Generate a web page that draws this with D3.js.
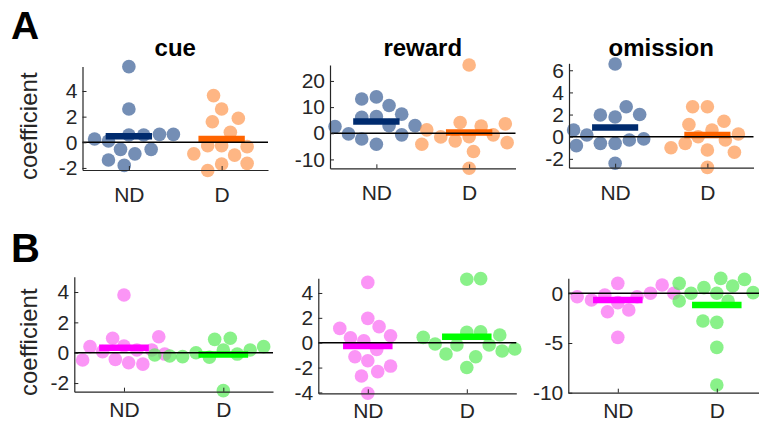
<!DOCTYPE html>
<html>
<head>
<meta charset="utf-8">
<script src="https://cdn.jsdelivr.net/npm/d3@7"></script>
<style>
  html, body { margin: 0; padding: 0; background: #fff; }
  svg { display: block; font-family: "Liberation Sans", Arial, Helvetica, sans-serif; }
</style>
</head>
<body>
<svg id="chart" width="759" height="427"></svg>
<script>
// Group labels on the x axis
const groups = ["ND", "D"];
const topTitles = ["cue", "reward", "omission"];

// Row A: regression coefficients per subject; *X arrays hold horizontal spread around the group position
const cueND    = [5.9, 2.6, 0.26, 0.1, 0.57, 0.57, 0.62, 0.62, -0.55, -0.55, -0.9, -1.38, -1.8];
const cueNDX   = [0, 0, -0.37, -0.22, 0, 0.16, 0.33, 0.48, -0.09, 0.24, 0.065, -0.22, -0.05];
const cueD     = [3.64, 2.6, 1.6, 1.87, 0.78, -0.9, -0.26, -0.26, -0.34, -1.0, -1.7, -2.2, -1.64];
const cueDX    = [-0.087, 0, -0.1, 0.18, 0.094, -0.3, -0.15, 0, 0.275, 0.14, 0, -0.15, 0.275];
const cueMeans = [0.47, 0.26];

const rewardND    = [2.55, -0.25, 13.1, 13.9, 10.6, 7.3, 6.1, 6.4, 2.9, 2.9, -2.2, -0.6, -4.2];
const rewardNDX   = [-0.446, -0.3, -0.158, 0, 0.137, 0.273, -0.158, 0, 0.137, 0.417, -0.158, 0.273, 0];
const rewardD     = [26.1, 1.3, -4.2, -1.4, -2.9, 4.1, -1.3, 2.8, -7.0, -0.6, 3.6, -3.6, -13.4];
const rewardDX    = [0, -0.457, -0.51, -0.306, -0.15, -0.097, 0, 0.13, 0.047, 0.26, 0.39, 0.41, 0];
const rewardMeans = [4.46, 0.25];

const omissionND    = [6.57, 0.6, -0.81, 0.15, 1.96, 1.78, 2.7, 2.0, -0.6, -0.6, -0.3, -0.2, -2.4];
const omissionNDX   = [0, -0.45, -0.42, -0.307, -0.16, 0, 0.12, 0.266, -0.16, 0, 0.154, 0.31, 0];
const omissionD     = [2.7, 2.7, 1.1, 1.4, 0.6, -1.0, -0.6, 0, -0.3, 0.24, -1.2, -1.4, -2.77];
const omissionDX    = [-0.16, 0, -0.2, 0.18, 0.05, -0.394, -0.24, -0.1, 0.195, 0.336, 0, 0.293, 0];
const omissionMeans = [0.84, 0.15];

// Row B
const b1ND    = [3.8, -0.48, 0.4, 0.07, 0.95, -0.44, 0.44, -0.66, 0.18, -0.75, 0.18, 1.05, -0.09];
const b1NDX   = [0, -0.416, -0.342, -0.215, -0.114, -0.087, 0, 0.047, 0.13, 0.19, 0.28, 0.35, 0.41];
const b1D     = [-0.15, -0.22, -0.26, 0, -0.3, 0.88, 0.95, 0.18, -0.09, 0.18, 0.4, -2.5];
const b1DX    = [-0.69, -0.54, -0.41, -0.275, -0.14, -0.087, 0.07, 0, 0.14, 0.27, 0.406, 0];
const b1Means = [0.33, -0.11];

const b2ND    = [4.85, 1.15, 0.4, 0.16, 1.96, 1.29, 0.56, -0.54, -1.13, -1.45, -1.88, -2.33, -2.68, -4.07];
const b2NDX   = [0, -0.283, -0.175, -0.04, 0, 0.114, 0.23, 0.09, -0.13, 0, 0.23, 0.1, -0.064, 0];
const b2D     = [5.1, 5.15, 0.43, -0.1, -0.91, -0.19, 0.83, 0.88, -1.13, -2.0, -0.19, 0.62, -0.67, -0.51];
const b2DX    = [0, 0.14, -0.44, -0.32, -0.21, -0.1, 0, 0.14, 0.09, 0, 0.226, 0.333, 0.357, 0.485];
const b2Means = [-0.27, 0.48];

const b3ND    = [-0.34, -0.67, -0.17, 1.0, -0.94, -1.85, -1.68, -0.34, -4.43, 0, 0.84, 0];
const b3NDX   = [-0.41, -0.266, -0.131, 0, 0, -0.104, 0.111, 0.195, 0, 0.33, 0.448, 0.566];
const b3D     = [1.0, -0.77, 0, 0.57, 0, 1.5, 0.74, 1.4, 0.07, -0.77, -2.78, -2.92, -5.44, -9.23];
const b3DX    = [-0.38, -0.38, -0.26, -0.13, 0, 0.04, 0.16, 0.28, 0.367, 0.114, -0.14, 0, 0, 0];
const b3Means = [-0.67, -1.17];

// Tick values
const cueTicks = [-2, 0, 2, 4];
const rewardTicks = [-10, 0, 10, 20];
const omissionTicks = [-2, 0, 2, 4, 6];
const b1Ticks = [-2, 0, 2, 4];
const b2Ticks = [-4, -2, 0, 2, 4];
const b3Ticks = [-10, -5, 0];

// Colours
const rowAColors = { dotND: "#3e6299", dotD: "#fd9a55", barND: "#002b6e", barD: "#ff6400" };
const rowBColors = { dotND: "#f96cf2", dotD: "#5ceb5c", barND: "#ff00ff", barD: "#00ff00" };

const panels = [
  { title: topTitles[0], nd: cueND, ndx: cueNDX, d: cueD, dx: cueDX, means: cueMeans, ticks: cueTicks,
    yDomain: [-2.16, 5.91], box: [82.5, 268, 66.5, 170], colors: rowAColors, xGap: 17, ylab: true },
  { title: topTitles[1], nd: rewardND, ndx: rewardNDX, d: rewardD, dx: rewardDX, means: rewardMeans, ticks: rewardTicks,
    yDomain: [-13.4, 26.1], box: [330, 515.5, 65, 168.3], colors: rowAColors, xGap: 17 },
  { title: topTitles[2], nd: omissionND, ndx: omissionNDX, d: omissionD, dx: omissionDX, means: omissionMeans, ticks: omissionTicks,
    yDomain: [-2.8, 6.63], box: [569, 753.5, 63.3, 167.7], colors: rowAColors, xGap: 17 },
  { nd: b1ND, ndx: b1NDX, d: b1D, dx: b1DX, means: b1Means, ticks: b1Ticks,
    yDomain: [-2.57, 5.01], box: [74.3, 273, 276.7, 391.7], colors: rowBColors, xGap: 10, ylab: true },
  { nd: b2ND, ndx: b2NDX, d: b2D, dx: b2DX, means: b2Means, ticks: b2Ticks,
    yDomain: [-4.07, 5.18], box: [318.3, 516.3, 278.3, 393.3], colors: rowBColors, xGap: 10 },
  { nd: b3ND, ndx: b3NDX, d: b3D, dx: b3DX, means: b3Means, ticks: b3Ticks,
    yDomain: [-10, 1.51], box: [568.3, 766.3, 278.3, 392.7], colors: rowBColors, xGap: 10 }
];

const svg = d3.select("#chart");
const axisColor = "#262626";
const tickFont = 21;
const dotR = 6.8;
const barHalf = 0.25;   // half-width of mean bar in category units

panels.forEach(p => {
  const [left, right, top, bottom] = p.box;
  const x = d3.scaleLinear().domain([0.5, 2.5]).range([left, right]);
  const y = d3.scaleLinear().domain(p.yDomain).range([bottom, top]);
  const g = svg.append("g");

  // individual subject coefficients
  const pts = [];
  p.nd.forEach((v, i) => pts.push({ g: 1, x: 1 + p.ndx[i], y: v, c: p.colors.dotND }));
  p.d.forEach((v, i) => pts.push({ g: 2, x: 2 + p.dx[i], y: v, c: p.colors.dotD }));
  g.append("g").selectAll("circle").data(pts).join("circle")
    .attr("cx", d => x(d.x)).attr("cy", d => y(d.y)).attr("r", dotR)
    .attr("fill", d => d.c).attr("fill-opacity", 0.72);

  // group means
  g.append("g").selectAll("line").data(p.means).join("line")
    .attr("x1", (m, i) => x(i + 1 - barHalf)).attr("x2", (m, i) => x(i + 1 + barHalf))
    .attr("y1", m => y(m)).attr("y2", m => y(m))
    .attr("stroke", (m, i) => i === 0 ? p.colors.barND : p.colors.barD)
    .attr("stroke-width", 6.5);

  // zero reference line
  g.append("line")
    .attr("x1", x(0.5)).attr("x2", Math.min(x(2.5), 759))
    .attr("y1", y(0)).attr("y2", y(0))
    .attr("stroke", "#000").attr("stroke-width", 1.6);

  // axes
  const yAxis = d3.axisLeft(y).tickValues(p.ticks).tickSize(-4).tickSizeOuter(0).tickPadding(5)
    .tickFormat(d3.format("d"));
  const ya = g.append("g").attr("transform", `translate(${left},0)`).call(yAxis);
  const xAxis = d3.axisBottom(x).tickValues([1, 2]).tickSize(-4).tickSizeOuter(0).tickPadding(p.xGap)
    .tickFormat(i => groups[i - 1]);
  const xa = g.append("g").attr("transform", `translate(0,${bottom})`).call(xAxis);
  [ya, xa].forEach(a => {
    a.select(".domain").attr("stroke", axisColor).attr("stroke-width", 1.2);
    a.selectAll(".tick line").attr("stroke", axisColor).attr("stroke-width", 1);
    a.selectAll(".tick text").attr("fill", axisColor)
      .style("font-size", tickFont + "px")
      .style("font-family", "'Liberation Sans', Arial, Helvetica, sans-serif");
  });
  ya.selectAll(".tick text").text(d => d < 0 ? "-" + Math.abs(d) : d);

  if (p.title) {
    g.append("text").attr("x", (left + right) / 2).attr("y", 55.5)
      .attr("text-anchor", "middle").attr("font-weight", "bold").attr("font-size", 24)
      .attr("fill", "#000").text(p.title);
  }
  if (p.ylab) {
    g.append("text")
      .attr("transform", `translate(37,${(top + bottom) / 2 + 8}) rotate(-90)`)
      .attr("text-anchor", "middle").attr("font-size", 24).attr("fill", axisColor)
      .text("coefficient");
  }
});

// panel letters
svg.append("text").attr("x", 11).attr("y", 39).attr("font-size", 39).attr("font-weight", "bold")
  .attr("fill", "#000").text("A");
svg.append("text").attr("x", 11).attr("y", 262).attr("font-size", 40).attr("font-weight", "bold")
  .attr("fill", "#000").text("B");
</script>
</body>
</html>
